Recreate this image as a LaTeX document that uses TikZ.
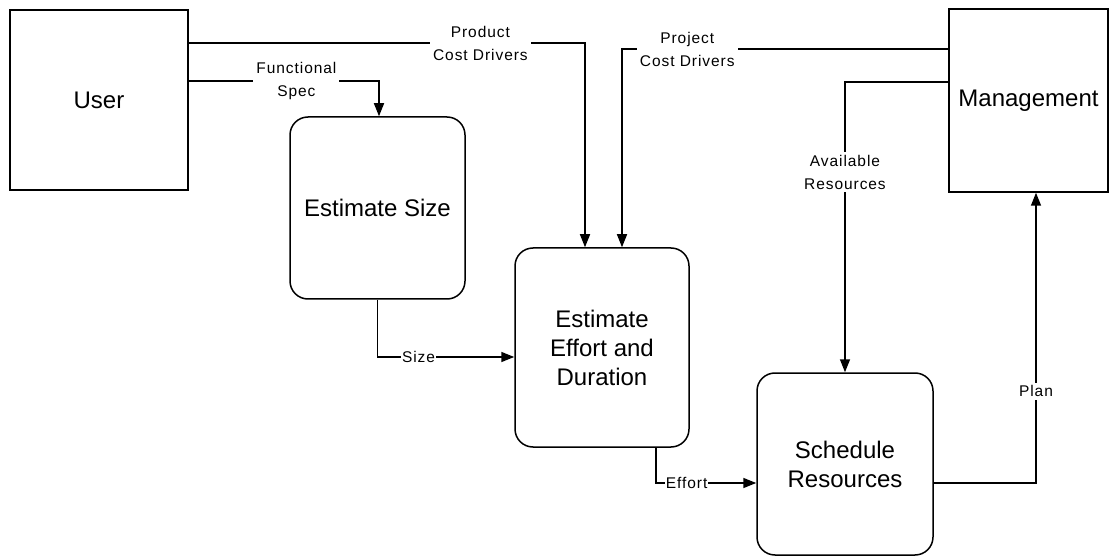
\documentclass[tikz,border=0pt]{standalone}
\usepackage{fontspec}
\setmainfont{Liberation Sans}
\newfontfamily\lblfont[LetterSpace=6]{Liberation Sans}
\usepackage{tikz}
\usetikzlibrary{arrows.meta}
\usetikzlibrary{positioning}
\tikzset{
    process/.style={
           rectangle,
           rounded corners=18pt,
           draw=black,
           minimum width=175pt,
           minimum height=182pt,
           align=center,
           font=\fontsize{24}{29}\selectfont,
           },
    agent/.style={
           rectangle,
           draw=black,
           align=center,
           font=\fontsize{24}{29}\selectfont,
           },
    flow/.style={
           fill=white,
           inner sep=3pt,
           align=center,
           font=\lblfont\fontsize{15.5}{23}\selectfont,
           },
}

\begin{document}
\begin{tikzpicture}[x=1pt,y=-1pt,->,>={Triangle[length=13pt,width=10pt]},line width=1.5pt]
 \useasboundingbox (0,0) rectangle (1112,556);

 % external agents (plain boxes)
 \node[agent,minimum width=178pt,minimum height=180pt] (User) at (99,100) {User};
 \node[agent,minimum width=159pt,minimum height=183pt] (Management) at (1028.5,100.5) {Management};

 % processes (rounded boxes)
 \node[process] (Size) at (377.5,208) {Estimate Size};
 \node[process,
  minimum width=174pt,  % a bit taller than the others
  minimum height=199pt] (Effort) at (602,347.5)
  {Estimate\\Effort and\\Duration};
 \node[process,minimum width=176pt] (Schedule) at (845,464) {Schedule\\Resources};

 % inputs from the user
 \draw ([yshift=57pt]User.east) -| node[flow,pos=0.368]{Product\\Cost Drivers} ([xshift=-17pt]Effort.north);
 \draw ([yshift=19pt]User.east) -| node[flow,pos=0.283]{Functional\\Spec} ([xshift=1.5pt]Size.north);

 % inputs from management
 \draw ([yshift=51.5pt]Management.west) -| node[flow,pos=0.40]{Project\\Cost Drivers} ([xshift=20pt]Effort.north);
 \draw ([yshift=18.5pt]Management.west) -| node[flow,pos=0.655]{Available\\Resources} (Schedule.north);

 % flow between the processes
 \draw (Size.south) |- node[flow,pos=0.65,inner sep=1pt]{Size} ([yshift=-9.5pt]Effort.west);
 \draw ([xshift=54pt]Effort.south) |- node[flow,pos=0.653,inner sep=1pt]{Effort} ([yshift=-19pt]Schedule.west);
 \draw ([yshift=-19pt]Schedule.east) -| node[flow,pos=0.658]{Plan} ([xshift=7.5pt]Management.south);

\end{tikzpicture}
\end{document}
